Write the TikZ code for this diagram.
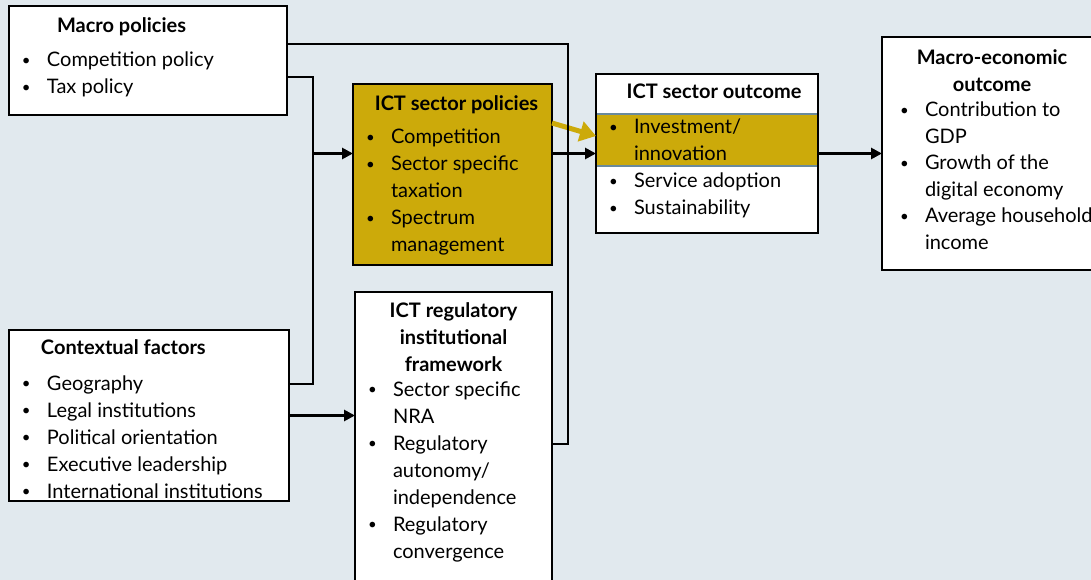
\documentclass[tikz,border=0pt]{standalone}
\usepackage{fontspec}
\setmainfont{Lato}
\usetikzlibrary{arrows.meta,positioning}

\definecolor{bgblue}{HTML}{E1E9EE}
\definecolor{ictgold}{HTML}{CCAA0A}
\definecolor{bandedge}{HTML}{6A8A9C}

% one bullet line, one continued line, one centred title
\newcommand{\dotmark}{\raisebox{1.5pt}{\fontsize{15}{15}\selectfont\textbullet}}
\newcommand{\itm}[1]{\hspace*{13pt}\makebox[25pt][l]{\dotmark}\mbox{#1}\par}
\newcommand{\cnt}[1]{\hspace*{38pt}\mbox{#1}\par}
\newcommand{\ttl}[1]{{\centering\bfseries #1\par}}
\newcommand{\topat}[1]{\rule{0pt}{#1pt}}

\begin{document}
\begin{tikzpicture}[x=1pt, y=-1pt,
  box/.style={draw, line width=1.6pt, fill=white, inner sep=0pt, outer sep=0pt},
  goldbox/.style={box, fill=ictgold},
  link/.style={line width=2.7pt},
  arr/.style={link, -{Triangle[length=11pt,width=11pt]}},
  goldarr/.style={line width=5pt, ictgold, -{Triangle[length=16pt,width=20pt]}},
  band/.style={path picture={
    \fill[ictgold, draw=bandedge, line width=1.4pt]
      ([yshift=-40pt]path picture bounding box.north west) rectangle
      ([yshift=-92pt]path picture bounding box.north east);}}]

\useasboundingbox (0,0) rectangle (1091,580);
\fill[bgblue] (0,0) rectangle (1091,580);
\clip (0,0) rectangle (1091,580);

\node[box, anchor=north west] (macro) at (9,6) {\parbox[t][109pt][t]{278pt}{\fontsize{20}{27}\selectfont
  \hspace*{48pt}\textbf{\topat{27}Macro policies}\par\vspace{7pt}
  \itm{Competition policy}
  \itm{Tax policy}}};

\node[box, below=215pt of macro.south west, anchor=north west] (context) {\parbox[t][171pt][t]{280pt}{\fontsize{20}{27}\selectfont
  \hspace*{32pt}\textbf{\topat{24}Contextual factors}\par\vspace{9pt}
  \itm{Geography}
  \itm{Legal institutions}
  \itm{Political orientation}
  \itm{Executive leadership}
  \itm{International institutions}}};

\node[goldbox, below right=78pt and 66pt of macro.north east, anchor=north west] (ictpol) {\parbox[t][181pt][t]{199pt}{\fontsize{20}{27}\selectfont
  \ttl{\hspace*{8pt}\topat{27}ICT sector policies}\vspace{6pt}
  \itm{Competition}
  \itm{Sector specific}
  \cnt{taxation}
  \itm{Spectrum}
  \cnt{management}}};

\node[box, below=27pt of ictpol.south west, anchor=north west, xshift=2pt] (reg) {\parbox[t][310pt][t]{197pt}{\fontsize{20}{27}\selectfont
  \ttl{\topat{25}ICT regulatory}
  \ttl{institutional}
  \ttl{framework}\vspace{-2pt}
  \itm{Sector specific}
  \cnt{NRA}
  \itm{Regulatory}
  \cnt{autonomy/}
  \cnt{independence}
  \itm{Regulatory}
  \cnt{convergence}}};

\node[box, band, right=44pt of ictpol.north east, anchor=north west, yshift=10pt] (outcome) {\parbox[t][159pt][t]{222pt}{\fontsize{20}{27}\selectfont
  \ttl{\hspace*{14pt}\topat{25}ICT sector outcome}\vspace{8pt}
  \itm{Investment/}
  \cnt{innovation}
  \itm{Service adoption}
  \itm{Sustainability}}};

\node[box, right=64pt of outcome.north east, anchor=north west, yshift=37pt] (macroecon) {\parbox[t][233pt][t]{220pt}{\fontsize{20}{26.6}\selectfont\leftskip=5pt
  \ttl{\topat{28}Macro-economic}
  \ttl{outcome}\vspace{-1.6pt}
  \itm{Contribution to}
  \cnt{GDP}
  \itm{Growth of the}
  \cnt{digital economy}
  \itm{Average household}
  \cnt{income}}};

\draw[goldarr] ([yshift=51.5pt]ictpol.east) -- ([yshift=17.5pt]outcome.west);

\draw[link] ([yshift=16.5pt]macro.east) -| ([xshift=16pt,yshift=3pt]reg.east) -- ([yshift=3pt]reg.east);
\draw[link] ([yshift=-16.5pt]macro.east) -| ([xshift=24pt,yshift=31.5pt]context.east) -- ([yshift=31.5pt]context.east);
\draw[arr] ([xshift=-40pt,yshift=21pt]ictpol.west) -- ([yshift=21pt]ictpol.west);
\draw[arr] ([yshift=21pt]ictpol.east) -- (outcome.west);
\draw[arr] (outcome.east) -- (macroecon.west);
\draw[arr] (context.east) -- (context.east -| reg.west);

\end{tikzpicture}
\end{document}
